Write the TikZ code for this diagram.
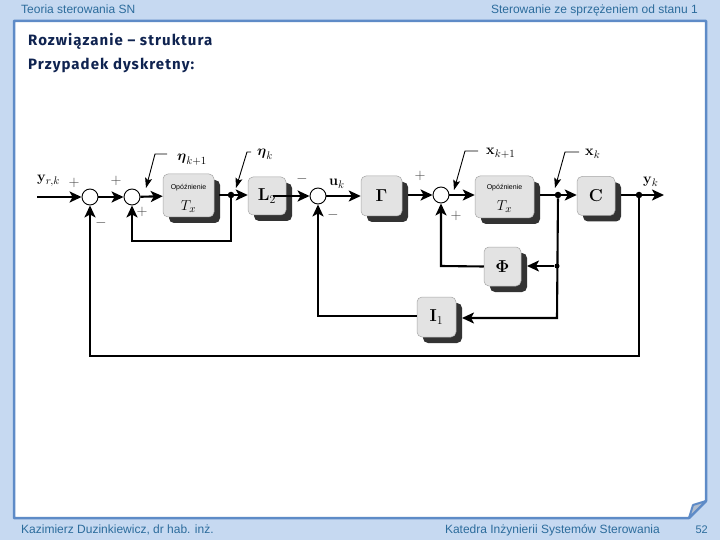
\documentclass[tikz,border=0pt]{standalone}
\usepackage[no-math]{fontspec}
\usepackage{amsmath}
\setmainfont{Liberation Sans}
\newfontfamily\titlefont[LetterSpace=7]{Fira Sans Bold}
\usetikzlibrary{arrows.meta,calc,shadows}
\definecolor{bgblue}{HTML}{C6D9F1}
\definecolor{frameblue}{HTML}{5E8BC7}
\definecolor{foot}{HTML}{2C6C9C}
\definecolor{titlec}{HTML}{0F2350}
\definecolor{boxfill}{HTML}{E3E3E3}
\definecolor{shadowc}{HTML}{333333}
\tikzset{
  x=1pt,y=-1pt,
  blockbox/.style={draw=gray!70,line width=0.5pt,fill=boxfill,rounded corners=5pt,minimum width=0,inner sep=0,
    general shadow={shadow xshift=6pt,shadow yshift=-6pt,fill=shadowc}},
  sumnode/.style={circle,draw=black,line width=0.9pt,fill=white,minimum size=16pt,inner sep=0},
  dotnode/.style={circle,fill=black,minimum size=6.5pt,inner sep=0},
  sig/.style={draw=black,line width=2.1pt,line join=miter},
  sigarrow/.style={sig,-{Stealth[length=12pt,width=11pt,inset=3pt]}},
  leader/.style={draw=black,line width=0.9pt,-{Stealth[length=10pt,width=7pt,inset=2pt]}},
  foottext/.style={text=foot,font=\fontsize{12}{14}\selectfont,inner sep=0,anchor=base},
  sign/.style={text=black!75,font=\fontsize{14}{14}\selectfont,inner sep=0},
  lab/.style={inner sep=0,font=\fontsize{15}{15}\selectfont},
  delaytxt/.style={inner sep=0,font=\fontsize{7}{8}\selectfont},
}
\newcommand{\bblock}[6]{\node[blockbox,minimum width=#4,minimum height=#5] (#1) at (#2,#3) {#6};}
\begin{document}
\begin{tikzpicture}
\useasboundingbox (0,0) rectangle (720,540);
\fill[bgblue] (0,0) rectangle (720,540);
% page with folded corner
\coordinate (pA) at (14,21);
\coordinate (pB) at (706,21);
\coordinate (pC) at (706,501);
\coordinate (pD) at (689,518);
\coordinate (pE) at (14,518);
\coordinate (pF) at (693,505);
\fill[white,draw=frameblue,line width=2.5pt,line join=round] (pA) -- (pB) -- (pC) -- (pD) -- (pE) -- cycle;
\fill[bgblue!70!gray,draw=frameblue,line width=2pt,line join=round] (pC) -- (pF) -- (pD) -- cycle;
% header and footer
\node[foottext,anchor=base west] (h1) at (21,14) {Teoria sterowania SN};
\node[foottext,anchor=base east] (h2) at (698,14) {Sterowanie ze sprzężeniem od stanu 1};
\node[foottext,anchor=base west] (f1) at (21,533) {Kazimierz Duzinkiewicz, dr hab. inż.};
\node[foottext,anchor=base east] (f2) at (660,533) {Katedra Inżynierii Systemów Sterowania};
\node[foottext,anchor=base east,font=\fontsize{11}{13}\selectfont] (f3) at (708,533) {52};
% title
\node[inner sep=0,anchor=base west,text=titlec,font=\titlefont\fontsize{15}{16}\selectfont] (t1) at (28,46) {Rozwiązanie – struktura};
\node[inner sep=0,anchor=base west,text=titlec,font=\titlefont\fontsize{15}{16}\selectfont] (t2) at (28,70) {Przypadek dyskretny:};
% free ends of the wires
\coordinate (in) at (37,197);
\coordinate (out) at (664,195);
\coordinate (cL) at (132,241);
\coordinate (cR) at (231,241);
\coordinate (fbR) at (639,356);
\coordinate (fbL) at (90,356);
\coordinate (iL) at (318,316);
\coordinate (iR) at (557,318);
\coordinate (pL) at (441,266);
% blocks
\bblock{D1}{188.5}{195.5}{51pt}{43pt}{}
\bblock{L2}{267}{196}{38pt}{38pt}{\fontsize{17}{17}\selectfont$\mathbf{L}_{2}$}
\bblock{G}{381.5}{196}{41pt}{40pt}{\fontsize{19}{19}\selectfont$\mathbf{\Gamma}$}
\bblock{D2}{504.5}{197}{59pt}{42pt}{}
\bblock{C}{596}{196}{38pt}{39pt}{\fontsize{18}{18}\selectfont$\mathbf{C}$}
\bblock{Phi}{502.5}{266.5}{37pt}{39pt}{\fontsize{18}{18}\selectfont$\mathbf{\Phi}$}
\bblock{I1}{436.5}{317}{39pt}{40pt}{\fontsize{17}{17}\selectfont$\mathbf{I}_{1}$}
\node[delaytxt] (d1a) at (188.5,188) {Opóźnienie};
\node[lab] (d1b) at (188.5,207) {$T_x$};
\node[delaytxt] (d2a) at (504.5,188) {Opóźnienie};
\node[lab] (d2b) at (504.5,207) {$T_x$};
% summing points and branch dots
\node[sumnode] (s1) at (90,197) {};
\node[sumnode] (s2) at (132,197) {};
\node[sumnode] (s3) at (318,196) {};
\node[sumnode] (s4) at (441,195) {};
\node[dotnode] (b1) at (231,195) {};
\node[dotnode] (b2) at (558,195) {};
\node[dotnode] (b3) at (639,195) {};
\node[dotnode,minimum size=5pt] (b4) at (557,266) {};
% forward path
\draw[sigarrow] (in) -- (s1);
\draw[sigarrow] (s1) -- (s2);
\draw[sigarrow] (s2) -- (D1);
\draw[sig] (219,195) -- (b1);
\draw[sigarrow] (b1) -- (L2.west |- b1);
\draw[sigarrow] (273,196) -- (s3);
\draw[sigarrow] (s3) -- (G);
\draw[sigarrow] (408,195) -- (s4);
\draw[sigarrow] (s4) -- (D2.west |- s4);
\draw[sig] (540,195) -- (b2);
\draw[sigarrow] (b2) -- (C.west |- b2);
\draw[sig] (621,195) -- (b3);
\draw[sigarrow] (b3) -- (out);
% feedback
\draw[sigarrow] (b1) -- (cR) -- (cL) -- (s2);
\draw[sigarrow] (b3) -- (fbR) -- (fbL) -- (s1);
\draw[sigarrow] (I1.west |- iL) -- (iL) -- (s3);
\draw[sigarrow] (b2) -- (iR) -- (462,318);
\draw[sigarrow] (b4) -- (527,266);
\draw[sigarrow] (Phi.west) -- (pL) -- (s4);
% state leaders
\coordinate (e1a) at (167,154);\coordinate (e1b) at (155,154);\coordinate (e1c) at (146,188);
\coordinate (e2a) at (251,152);\coordinate (e2b) at (247,152);\coordinate (e2c) at (236,188);
\coordinate (x1a) at (478,151);\coordinate (x1b) at (465,151);\coordinate (x1c) at (454,190);
\coordinate (x2a) at (579,152);\coordinate (x2b) at (565,152);\coordinate (x2c) at (555,188);
\draw[leader] (e1a) -- (e1b) -- (e1c);
\draw[leader] (e2a) -- (e2b) -- (e2c);
\draw[leader] (x1a) -- (x1b) -- (x1c);
\draw[leader] (x2a) -- (x2b) -- (x2c);
% labels
\node[lab,anchor=base west] (lyr) at (37,182) {$\mathbf{y}_{r,k}$};
\node[lab,anchor=base west] (le1) at (177,161) {$\boldsymbol{\eta}_{k+1}$};
\node[lab,anchor=base west] (le2) at (257,156) {$\boldsymbol{\eta}_{k}$};
\node[lab,anchor=base west] (lu) at (329,186) {$\mathbf{u}_{k}$};
\node[lab,anchor=base west] (lx1) at (486,155) {$\mathbf{x}_{k+1}$};
\node[lab,anchor=base west] (lx2) at (585,156) {$\mathbf{x}_{k}$};
\node[lab,anchor=base west] (ly) at (643,184) {$\mathbf{y}_{k}$};
% signs
\node[sign] (p1) at (74,183) {$+$};
\node[sign] (p2) at (116,181) {$+$};
\node[sign] (p3) at (142,212) {$+$};
\node[sign] (m1) at (101,223) {$-$};
\node[sign] (m2) at (302,179) {$-$};
\node[sign] (m3) at (333,215) {$-$};
\node[sign] (p4) at (420,176) {$+$};
\node[sign] (p5) at (456,216) {$+$};
\end{tikzpicture}
\end{document}
